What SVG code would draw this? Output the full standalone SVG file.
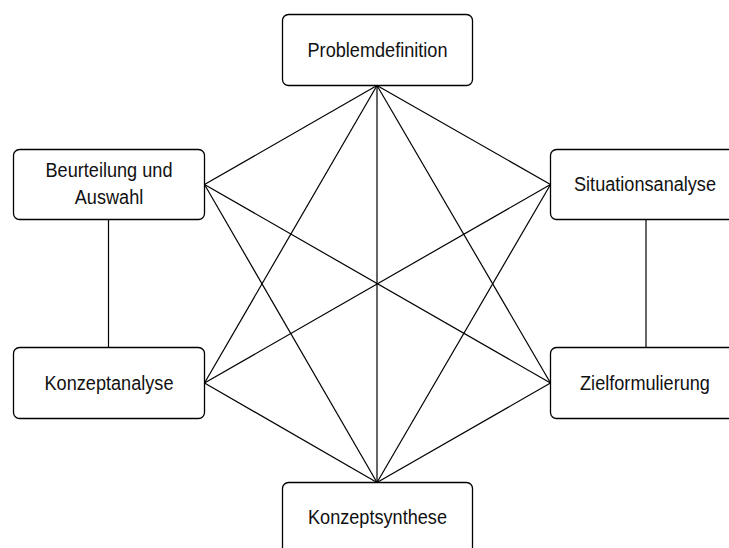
<svg xmlns="http://www.w3.org/2000/svg" width="729" height="548" viewBox="0 0 729 548">
  <style>
    .box { fill: #ffffff; stroke: #000000; stroke-width: 1.3; }
    .lbl { font-family: "Liberation Sans", Arial, Helvetica, sans-serif; font-size: 21px; fill: #111111; text-anchor: middle; }
    .edge { stroke: #000000; stroke-width: 1.2; fill: none; }
  </style>
  <rect width="729" height="548" fill="#ffffff"/>

  <!-- connectors -->
  <g id="connectors">
    <!-- Problemdefinition (377,85) -->
    <line class="edge" x1="377" y1="85.5" x2="204.5" y2="184.5"/>
    <line class="edge" x1="377" y1="85.5" x2="550.5" y2="184.5"/>
    <line class="edge" x1="377" y1="85.5" x2="204.5" y2="383"/>
    <line class="edge" x1="377" y1="85.5" x2="550.5" y2="383"/>
    <line class="edge" x1="377" y1="85.5" x2="377" y2="482.5"/>
    <!-- Beurteilung und Auswahl -->
    <line class="edge" x1="204.5" y1="184.5" x2="550.5" y2="383"/>
    <line class="edge" x1="204.5" y1="184.5" x2="377" y2="482.5"/>
    <!-- Situationsanalyse -->
    <line class="edge" x1="550.5" y1="184.5" x2="204.5" y2="383"/>
    <line class="edge" x1="550.5" y1="184.5" x2="377" y2="482.5"/>
    <!-- Konzeptanalyse / Zielformulierung to Konzeptsynthese -->
    <line class="edge" x1="204.5" y1="383" x2="377" y2="482.5"/>
    <line class="edge" x1="550.5" y1="383" x2="377" y2="482.5"/>
    <!-- side links -->
    <line class="edge" x1="108.5" y1="219.5" x2="108.5" y2="347.5"/>
    <line class="edge" x1="646" y1="219.5" x2="646" y2="347.5"/>
  </g>

  <!-- labels use a slightly condensed Arial-metric face -->
  <g id="problemdefinition">
    <rect class="box" x="282.5" y="14.5" width="190" height="71" rx="6"/>
    <text class="lbl" transform="translate(377.5 56.5) scale(0.863 1)">Problemdefinition</text>
  </g>

  <g id="beurteilung">
    <rect class="box" x="13.5" y="149.5" width="191" height="70" rx="6"/>
    <text class="lbl" transform="translate(109 177) scale(0.863 1)">Beurteilung und</text>
    <text class="lbl" transform="translate(109 203.5) scale(0.863 1)">Auswahl</text>
  </g>

  <g id="situationsanalyse">
    <rect class="box" x="550.5" y="149.5" width="191" height="70" rx="6"/>
    <text class="lbl" transform="translate(645 191) scale(0.863 1)">Situationsanalyse</text>
  </g>

  <g id="konzeptanalyse">
    <rect class="box" x="13.5" y="347.5" width="191" height="71" rx="6"/>
    <text class="lbl" transform="translate(109 390) scale(0.863 1)">Konzeptanalyse</text>
  </g>

  <g id="zielformulierung">
    <rect class="box" x="550.5" y="347.5" width="191" height="71" rx="6"/>
    <text class="lbl" transform="translate(645 390) scale(0.863 1)">Zielformulierung</text>
  </g>

  <g id="konzeptsynthese">
    <rect class="box" x="282.5" y="482.5" width="190" height="71" rx="6"/>
    <text class="lbl" transform="translate(377.5 524) scale(0.863 1)">Konzeptsynthese</text>
  </g>
</svg>
